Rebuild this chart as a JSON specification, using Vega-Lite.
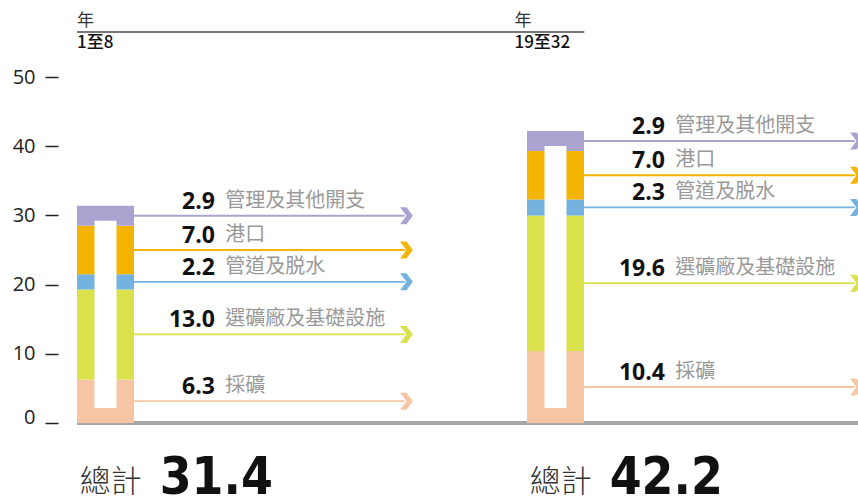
{
  "$schema": "https://vega.github.io/schema/vega-lite/v6.json",
  "width": 781,
  "height": 346,
  "autosize": {"type": "none"},
  "padding": {"left": 77, "top": 77, "right": 0, "bottom": 78},
  "background": "white",
  "config": {"view": {"stroke": null}},
  "data": {"values": [
    {"period": "1至8", "segment": "採礦", "value": 6.3, "rank": 1},
    {"period": "1至8", "segment": "選礦廠及基礎設施", "value": 13.0, "rank": 2},
    {"period": "1至8", "segment": "管道及脱水", "value": 2.2, "rank": 3},
    {"period": "1至8", "segment": "港口", "value": 7.0, "rank": 4},
    {"period": "1至8", "segment": "管理及其他開支", "value": 2.9, "rank": 5},
    {"period": "19至32", "segment": "採礦", "value": 10.4, "rank": 1},
    {"period": "19至32", "segment": "選礦廠及基礎設施", "value": 19.6, "rank": 2},
    {"period": "19至32", "segment": "管道及脱水", "value": 2.3, "rank": 3},
    {"period": "19至32", "segment": "港口", "value": 7.0, "rank": 4},
    {"period": "19至32", "segment": "管理及其他開支", "value": 2.9, "rank": 5}
  ]},
  "encoding": {
    "x": {"field": "period", "type": "nominal", "axis": null, "sort": ["1至8", "19至32"],
      "scale": {"domain": ["1至8", "19至32"], "range": [0, 507], "paddingInner": 0.87333, "paddingOuter": 0, "align": 0}}
  },
  "layer": [
    {
      "mark": {"type": "rule", "color": "#a8a8a8", "strokeWidth": 3},
      "encoding": {"x": null, "y": {"datum": 0, "type": "quantitative"}}
    },
    {
      "mark": {"type": "bar"},
      "encoding": {
        "x": {"field": "period", "type": "nominal", "bandPosition": 0},
        "y": {"field": "value", "type": "quantitative", "stack": "zero",
          "scale": {"domain": [0, 50], "nice": false},
          "axis": {"values": [0, 10, 20, 30, 40, 50], "title": null, "domain": false, "grid": false,
            "offset": 19, "tickSize": 13, "tickWidth": 1.5, "tickColor": "#222",
            "labelFontSize": 20, "labelColor": "#222", "labelFont": "Open Sans", "labelPadding": 10,
            "labelOffset": {"condition": {"test": "datum.value === 0", "value": -6}, "value": 0}}},
        "color": {"field": "segment", "type": "nominal", "legend": null,
          "scale": {"domain": ["採礦", "選礦廠及基礎設施", "管道及脱水", "港口", "管理及其他開支"],
            "range": ["#F6C6A4", "#D9E14B", "#74B3E0", "#F5B400", "#ABA3CF"]}},
        "order": {"field": "rank", "type": "quantitative"}
      }
    },
    {
      "transform": [{"aggregate": [{"op": "sum", "field": "value", "as": "total"}], "groupby": ["period"]}],
      "mark": {"type": "bar", "color": "white", "width": 22, "yOffset": 15, "y2Offset": -15},
      "encoding": {
        "x": {"field": "period", "type": "nominal"},
        "y": {"field": "total", "type": "quantitative"},
        "y2": {"datum": 0}
      }
    },
    {
      "transform": [
        {"stack": "value", "groupby": ["period"], "sort": [{"field": "rank"}], "as": ["y0", "y1"]},
        {"calculate": "(datum.y0 + datum.y1) / 2", "as": "mid"}
      ],
      "layer": [
        {
          "mark": {"type": "rule", "strokeWidth": 1.8},
          "encoding": {
            "x": {"field": "period", "type": "nominal", "bandPosition": 1},
            "x2": {"field": "period", "bandPosition": 5.75},
            "y": {"field": "mid", "type": "quantitative"},
            "color": {"field": "segment", "type": "nominal"}
          }
        },
        {
          "mark": {"type": "point", "filled": true, "opacity": 1, "size": 289,
            "shape": "M-0.75,-1 L0,-1 L0.75,0 L0,1 L-0.75,1 L0,0 Z"},
          "encoding": {
            "x": {"field": "period", "type": "nominal", "bandPosition": 5.78},
            "y": {"field": "mid", "type": "quantitative"},
            "color": {"field": "segment", "type": "nominal"}
          }
        },
        {
          "mark": {"type": "text", "align": "right", "baseline": "alphabetic", "dy": -7,
            "font": "Open Sans", "fontWeight": "bold", "fontSize": 23, "color": "#111"},
          "encoding": {
            "x": {"field": "period", "type": "nominal", "bandPosition": 2.42},
            "y": {"field": "mid", "type": "quantitative"},
            "text": {"field": "value", "type": "quantitative", "format": ".1f"}
          }
        },
        {
          "mark": {"type": "text", "align": "left", "baseline": "alphabetic", "dy": -9,
            "font": "Noto Sans CJK TC", "fontSize": 20, "color": "#999"},
          "encoding": {
            "x": {"field": "period", "type": "nominal", "bandPosition": 2.6},
            "y": {"field": "mid", "type": "quantitative"},
            "text": {"field": "segment", "type": "nominal"}
          }
        }
      ]
    },
    {
      "transform": [{"aggregate": [{"op": "sum", "field": "value", "as": "total"}], "groupby": ["period"]}],
      "layer": [
        {
          "mark": {"type": "text", "align": "left", "baseline": "alphabetic", "font": "Noto Sans CJK TC",
            "fontWeight": 300, "fontSize": 31, "color": "#333", "text": "總計"},
          "encoding": {
            "x": {"field": "period", "type": "nominal", "bandPosition": 0.05},
            "y": {"datum": -9.9}
          }
        },
        {
          "mark": {"type": "text", "align": "left", "baseline": "alphabetic",
            "font": "Liberation Sans Narrow, DejaVu Sans Condensed", "fontWeight": "bold", "fontSize": 51, "color": "#111"},
          "encoding": {
            "x": {"field": "period", "type": "nominal", "bandPosition": 1.45},
            "y": {"datum": -10.2},
            "text": {"field": "total", "type": "quantitative", "format": ".1f"}
          }
        },
        {
          "transform": [{"filter": "datum.period === '1至8'"}],
          "layer": [
            {
              "mark": {"type": "text", "align": "left", "baseline": "alphabetic", "font": "Noto Sans CJK TC",
                "fontSize": 17, "color": "#333", "text": "年"},
              "encoding": {"x": {"field": "period", "type": "nominal", "bandPosition": 0}, "y": {"datum": 57.4}}
            },
            {
              "mark": {"type": "text", "align": "left", "baseline": "alphabetic", "font": "Noto Sans CJK TC",
                "fontSize": 17, "fontWeight": 500, "color": "#111"},
              "encoding": {"x": {"field": "period", "type": "nominal", "bandPosition": 0}, "y": {"datum": 54.2},
                "text": {"field": "period", "type": "nominal"}}
            }
          ]
        },
        {
          "transform": [{"filter": "datum.period === '19至32'"}],
          "layer": [
            {
              "mark": {"type": "text", "align": "left", "baseline": "alphabetic", "font": "Noto Sans CJK TC",
                "fontSize": 17, "color": "#333", "text": "年"},
              "encoding": {"x": {"field": "period", "type": "nominal", "bandPosition": -0.22}, "y": {"datum": 57.4}}
            },
            {
              "mark": {"type": "text", "align": "left", "baseline": "alphabetic", "font": "Noto Sans CJK TC",
                "fontSize": 17, "fontWeight": 500, "color": "#111"},
              "encoding": {"x": {"field": "period", "type": "nominal", "bandPosition": -0.22}, "y": {"datum": 54.2},
                "text": {"field": "period", "type": "nominal"}}
            }
          ]
        },
        {
          "transform": [{"filter": "datum.period === '1至8'"}],
          "mark": {"type": "rule", "color": "#777", "strokeWidth": 2},
          "encoding": {
            "x": {"field": "period", "type": "nominal", "bandPosition": 0},
            "x2": {"field": "period", "bandPosition": 8.9},
            "y": {"datum": 56.5}
          }
        }
      ]
    }
  ]
}
